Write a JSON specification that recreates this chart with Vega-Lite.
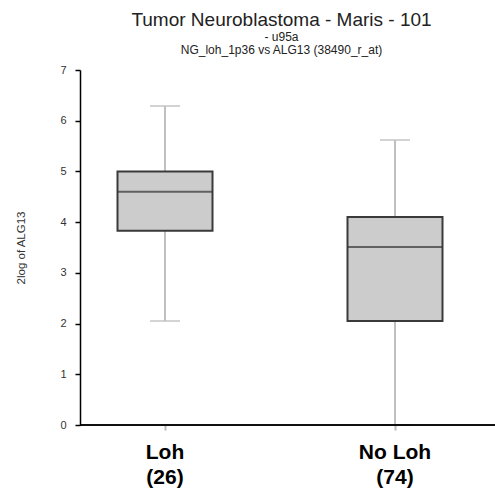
{
  "$schema": "https://vega.github.io/schema/vega-lite/v6.json",
  "width": 415,
  "height": 355,
  "autosize": "none",
  "padding": {"left": 80, "top": 70, "right": 0, "bottom": 66},
  "background": "white",
  "config": {
    "view": {"stroke": null},
    "font": "Liberation Sans"
  },
  "title": {
    "text": "Tumor Neuroblastoma  - Maris - 101",
    "subtitle": ["- u95a", "NG_loh_1p36 vs ALG13 (38490_r_at)"],
    "anchor": "middle",
    "frame": "group",
    "dx": -6,
    "offset": 8,
    "font": "Liberation Sans",
    "fontSize": 19,
    "fontWeight": "normal",
    "color": "#222222",
    "subtitleFont": "Liberation Sans",
    "subtitleFontSize": 12,
    "subtitleColor": "#222222",
    "subtitlePadding": 2,
    "subtitleLineHeight": 13
  },
  "data": {
    "values": [
      {"group": "Loh", "n": 26, "lower": 2.05, "q1": 3.83, "median": 4.6, "q3": 5.0, "upper": 6.29},
      {"group": "No Loh", "n": 74, "lower": 0.0, "q1": 2.05, "median": 3.51, "q3": 4.1, "upper": 5.62}
    ]
  },
  "encoding": {
    "x": {
      "field": "group",
      "type": "nominal",
      "scale": {"type": "band", "domain": ["Loh", "No Loh"], "range": [-30, 430], "paddingInner": 0, "paddingOuter": 0},
      "axis": {
        "title": null,
        "domain": false,
        "labelAngle": 0,
        "tickColor": "#bbbbbb",
        "tickWidth": 2,
        "tickSize": 5,
        "labelFont": "Liberation Sans",
        "labelFontSize": 21,
        "labelFontWeight": "bold",
        "labelColor": "#000000",
        "labelLineHeight": 25,
        "labelPadding": 11,
        "labelExpr": "datum.value == 'Loh' ? ['Loh', '(26)'] : ['No Loh', '(74)']"
      }
    }
  },
  "layer": [
    {
      "mark": {"type": "rule", "color": "#c0c0c0", "strokeWidth": 2},
      "encoding": {
        "y": {
          "field": "lower",
          "type": "quantitative",
          "scale": {"domain": [0, 7], "nice": false, "zero": false},
          "axis": {
            "title": "2log of ALG13",
            "titleFont": "Liberation Sans",
            "titleFontSize": 11.5,
            "titleFontWeight": "normal",
            "titleColor": "#333333",
            "titlePadding": 33,
            "values": [0, 1, 2, 3, 4, 5, 6, 7],
            "grid": false,
            "domainColor": "#000000",
            "domainWidth": 1.5,
            "tickColor": "#000000",
            "tickWidth": 1.5,
            "tickSize": 5,
            "labelFont": "Liberation Sans",
            "labelFontSize": 11,
            "labelColor": "#333333",
            "labelPadding": 9
          }
        },
        "y2": {"field": "upper"}
      }
    },
    {
      "mark": {"type": "tick", "color": "#c0c0c0", "thickness": 2, "size": 30},
      "encoding": {"y": {"field": "upper", "type": "quantitative"}}
    },
    {
      "mark": {"type": "tick", "color": "#c0c0c0", "thickness": 2, "size": 30},
      "encoding": {"y": {"field": "lower", "type": "quantitative"}}
    },
    {
      "mark": {"type": "bar", "fill": "#cccccc", "stroke": "#3a3a3a", "strokeWidth": 2, "size": 95},
      "encoding": {
        "y": {"field": "q1", "type": "quantitative"},
        "y2": {"field": "q3"}
      }
    },
    {
      "mark": {"type": "tick", "color": "#333333", "thickness": 2, "size": 95},
      "encoding": {"y": {"field": "median", "type": "quantitative"}}
    },
    {
      "mark": {"type": "rule", "color": "#000000", "strokeWidth": 1.5},
      "encoding": {"y": {"datum": 0, "type": "quantitative"}, "x": {"value": 0}, "x2": {"value": 415}}
    }
  ]
}
